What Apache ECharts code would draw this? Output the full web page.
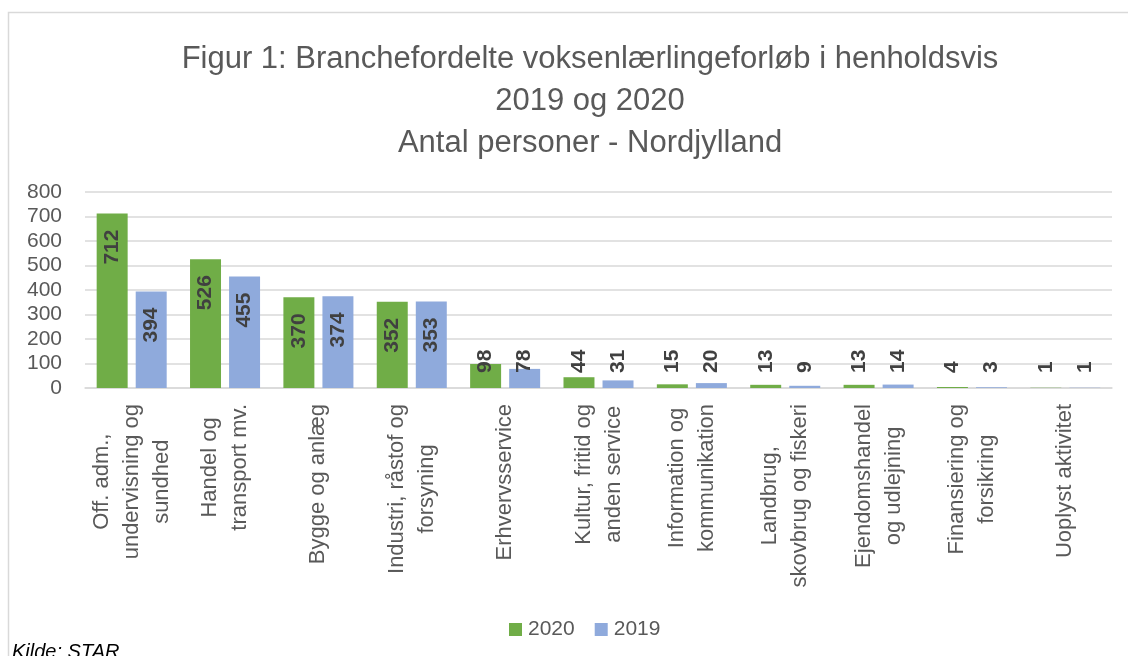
<!DOCTYPE html>
<html>
<head>
<meta charset="utf-8">
<script src="https://cdn.jsdelivr.net/npm/echarts@6/dist/echarts.min.js"></script>
<style>
  html, body { margin: 0; padding: 0; background: #fff; }
  #chart { width: 1128px; height: 656px; }
</style>
</head>
<body>
<div id="chart"></div>
<script>
const categories = [
  "Off. adm.,\nundervisning og\nsundhed",
  "Handel og\ntransport mv.",
  "Bygge og anlæg",
  "Industri, råstof og\nforsyning",
  "Erhvervsservice",
  "Kultur, fritid og\nanden service",
  "Information og\nkommunikation",
  "Landbrug,\nskovbrug og fiskeri",
  "Ejendomshandel\nog udlejning",
  "Finansiering og\nforsikring",
  "Uoplyst aktivitet"
];
const values2020 = [712, 526, 370, 352, 98, 44, 15, 13, 13, 4, 1];
const values2019 = [394, 455, 374, 353, 78, 31, 20, 9, 14, 3, 1];
const yTicks = [0, 100, 200, 300, 400, 500, 600, 700, 800];

const labelFont = { fontFamily: "Liberation Sans", fontWeight: "bold", fontSize: 21, color: "#404040" };

// big bars: label inside near the top; small bars: label just above the axis
function withLabels(values) {
  return values.map((v) => ({
    value: v,
    label: v >= 200
      ? { position: "insideTop", distance: 16, align: "right" }
      : { position: "insideBottom", distance: 15, align: "left" },
  }));
}

const chart = echarts.init(document.getElementById("chart"));

chart.setOption({
  animation: false,
  textStyle: { fontFamily: "Liberation Sans" },
  title: {
    text: "Figur 1: Branchefordelte voksenlærlingeforløb i henholdsvis\n2019 og 2020\nAntal personer - Nordjylland",
    left: 585,
    textAlign: "center",
    top: 33,
    textStyle: { fontFamily: "Liberation Sans", fontWeight: "normal", fontSize: 31, color: "#595959", lineHeight: 42 },
  },
  legend: {
    data: ["2020", "2019"],
    left: 504,
    top: 614,
    icon: "rect",
    itemWidth: 13,
    itemHeight: 13,
    itemGap: 20,
    textStyle: { fontSize: 21, color: "#595959", padding: [0, 0, 0, 1] },
  },
  grid: { left: 85, right: 16, top: 192, bottom: 268 },
  xAxis: {
    type: "category",
    data: categories,
    axisLine: { lineStyle: { color: "#d9d9d9", width: 1.5 } },
    axisTick: { show: false },
    axisLabel: {
      interval: 0,
      rotate: 90,
      margin: 16,
      color: "#595959",
      fontSize: 22,
      lineHeight: 30,
      formatter: (v) => v.split("\n").map((s) => "{c|" + s + "}").join("\n"),
      rich: { c: { align: "center", fontSize: 22, lineHeight: 30, color: "#595959" } },
    },
  },
  yAxis: {
    type: "value",
    min: yTicks[0],
    max: yTicks[yTicks.length - 1],
    interval: 100,
    axisLine: { show: false },
    axisTick: { show: false },
    axisLabel: { color: "#595959", fontSize: 21, margin: 23 },
    splitLine: { lineStyle: { color: "#d9d9d9", width: 1.5 } },
  },
  series: [
    {
      name: "2020",
      type: "bar",
      data: withLabels(values2020),
      barGap: "26%",
      barCategoryGap: "25%",
      itemStyle: { color: "#70AD47" },
      label: Object.assign({ show: true, rotate: 90, verticalAlign: "middle" }, labelFont),
    },
    {
      name: "2019",
      type: "bar",
      data: withLabels(values2019),
      barGap: "26%",
      barCategoryGap: "25%",
      itemStyle: { color: "#8FAADC" },
      label: Object.assign({ show: true, rotate: 90, verticalAlign: "middle" }, labelFont),
    },
  ],
  graphic: [
    {
      type: "rect",
      shape: { x: 8.5, y: 12.5, width: 1140, height: 660 },
      style: { fill: "none", stroke: "#d9d9d9", lineWidth: 1.5 },
      silent: true,
    },
    {
      type: "text",
      left: 12,
      top: 642,
      style: { text: "Kilde: STAR", font: "italic 20px Liberation Sans", fill: "#000" },
    },
  ],
});
</script>
</body>
</html>
